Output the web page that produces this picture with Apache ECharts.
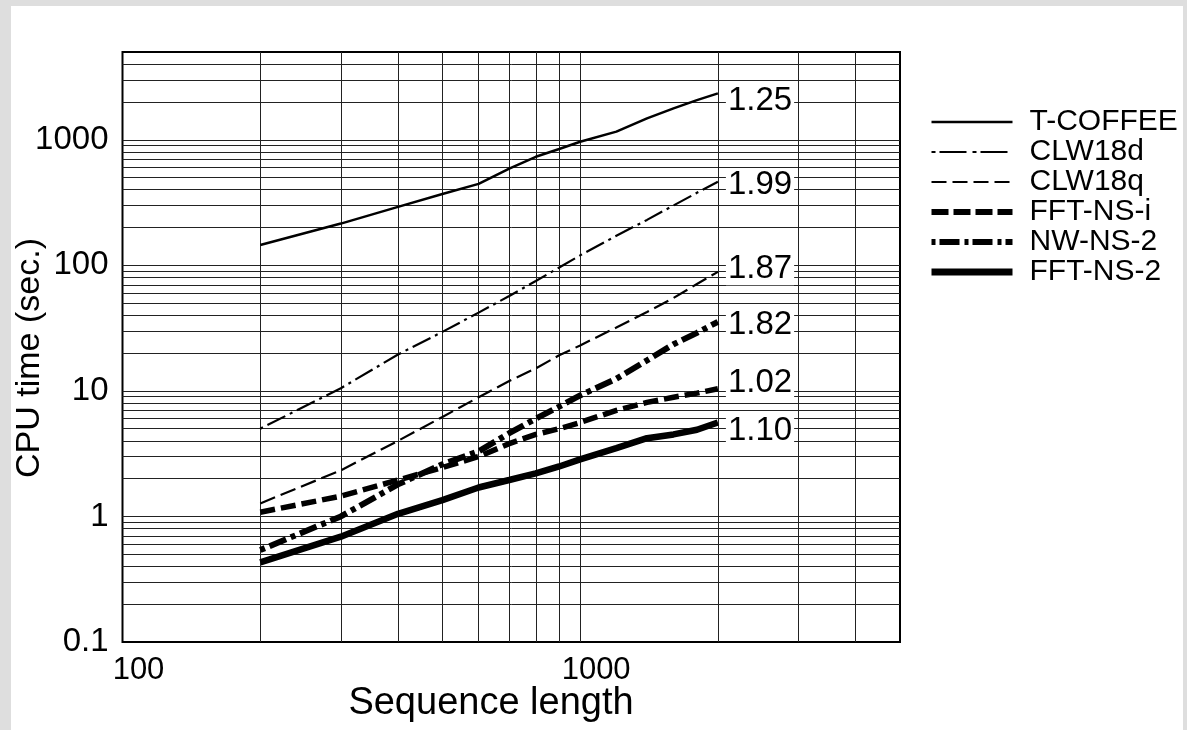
<!DOCTYPE html>
<html>
<head>
<meta charset="utf-8">
<script src="https://cdn.jsdelivr.net/npm/echarts@6/dist/echarts.min.js"></script>
<style>
html,body{margin:0;padding:0;background:#dedede;width:1187px;height:730px;overflow:hidden;}
#paper{position:absolute;left:11px;top:6px;width:1172px;height:724px;background:#fff;}
#chart{position:absolute;left:0;top:0;width:1187px;height:730px;}
</style>
</head>
<body>
<div id="paper"></div>
<div id="chart"></div>
<script>
// ---- data ----
const xValues   = [200, 300, 400, 500, 600, 700, 800, 900, 1000, 1200, 1400, 1600, 1800, 2000];
const tCoffee   = [145, 215, 292, 370, 445, 590, 732, 845, 965, 1160, 1480, 1780, 2070, 2340];
const clw18d    = [5.0, 10.5, 19.5, 29.5, 42, 57, 75, 96, 120, 172, 230, 300, 378, 463];
const clw18q    = [1.27, 2.33, 4.0, 6.2, 8.9, 12, 15.1, 19.2, 23, 32, 42.5, 55, 71, 88.7];
const fftNSi    = [1.08, 1.45, 1.95, 2.45, 3.0, 3.8, 4.5, 5.0, 5.6, 7.0, 8.1, 8.9, 9.6, 10.4];
const nwNS2     = [0.54, 1.0, 1.8, 2.6, 3.3, 4.6, 6.0, 7.5, 9.2, 12.5, 17.5, 23.5, 29, 35.5];
const fftNS2    = [0.43, 0.69, 1.05, 1.35, 1.7, 1.95, 2.2, 2.5, 2.85, 3.5, 4.2, 4.5, 4.9, 5.6];
const seriesNames = ['T-COFFEE', 'CLW18d', 'CLW18q', 'FFT-NS-i', 'NW-NS-2', 'FFT-NS-2'];
const slopeLabels = ['1.25', '1.99', '1.87', '1.02', '1.82', '1.10'];
const xTickLabels = ['100', '1000'];
const yTickLabels = ['0.1', '1', '10', '100', '1000'];
const xRange = [100, 5000];
const yRange = [0.1, 5000];
const xTitle = 'Sequence length';
const yTitle = 'CPU time (sec.)';

// ---- styles ----
const seriesValues = [tCoffee, clw18d, clw18q, fftNSi, nwNS2, fftNS2];
const styles = [
  {width: 2.5, type: 'solid'},
  {width: 2.2, type: [3, 5, 20, 5]},
  {width: 2.2, type: [16, 6]},
  {width: 5.5, type: [15, 6]},
  {width: 6,   type: [5, 5, 18, 5]},
  {width: 6.5, type: 'solid'}
];
const legendStyles = [
  {width: 2.4, type: 'solid'},
  {width: 2.2, type: [4, 4, 27, 6]},
  {width: 2.2, type: [15, 6]},
  {width: 6,   type: [17, 5]},
  {width: 6,   type: [4, 4, 20, 5]},
  {width: 7,   type: 'solid'}
];
const labelDy = [8, 3, -3, -6, 3, 8];

// grid line positions (log minor lines)
function logLines(lo, hi) {
  const out = [];
  for (let d = Math.floor(Math.log10(lo)); d <= Math.ceil(Math.log10(hi)); d++) {
    for (let m = 1; m <= 9; m++) {
      const v = +(m * Math.pow(10, d)).toPrecision(6);
      if (v > lo * 1.0001 && v < hi * 0.9999) out.push(v);
    }
  }
  return out;
}
const gridMarks = logLines(xRange[0], xRange[1]).map(v => ({xAxis: v}))
  .concat(logLines(yRange[0], yRange[1]).map(v => ({yAxis: v})));

const font = '"Liberation Sans", Arial, Helvetica, sans-serif';

const series = seriesNames.map((name, i) => ({
  name: name,
  type: 'line',
  symbol: 'none',
  data: xValues.map((x, j) => [x, seriesValues[i][j]]),
  lineStyle: {color: '#000', width: styles[i].width, type: styles[i].type, cap: 'butt'},
  itemStyle: {color: '#000'},
  z: 5,
  endLabel: {
    show: true,
    formatter: slopeLabels[i],
    fontFamily: font,
    fontSize: 33,
    color: '#000',
    backgroundColor: '#fff',
    padding: [0, 2],
    distance: 0,
    offset: [8, labelDy[i]]
  },
  markLine: i === 0 ? {
    silent: true,
    symbol: ['none', 'none'],
    label: {show: false},
    lineStyle: {color: '#222', width: 1, type: 'solid'},
    emphasis: {disabled: true},
    animation: false,
    z: 1,
    data: gridMarks
  } : undefined
}));

const chart = echarts.init(document.getElementById('chart'), null, {renderer: 'canvas'});
chart.setOption({
  animation: false,
  backgroundColor: 'transparent',
  grid: {
    left: 122.5, right: 287, top: 52, bottom: 88,
    show: true, borderColor: '#000', borderWidth: 2, backgroundColor: 'transparent'
  },
  legend: {
    orient: 'vertical',
    left: 923, top: 102,
    itemWidth: 81, itemHeight: 30, itemGap: 0,
    selectedMode: false,
    itemStyle: {opacity: 0},
    textStyle: {fontFamily: font, fontSize: 30, color: '#000', lineHeight: 30, padding: [0, 0, 0, 12]},
    data: seriesNames.map((n, i) => ({
      name: n,
      itemStyle: {opacity: 0},
      lineStyle: {color: '#000', width: legendStyles[i].width, type: legendStyles[i].type, cap: 'butt', opacity: 1}
    }))
  },
  xAxis: {
    type: 'log', logBase: 10, min: xRange[0], max: xRange[1],
    axisLine: {show: false}, axisTick: {show: false}, splitLine: {show: false},
    axisLabel: {
      fontFamily: font, fontSize: 31, color: '#000', margin: 13,
      padding: [0, 0, 0, 32], showMaxLabel: false,
      formatter: v => { const s = String(+(+v).toPrecision(4)); return xTickLabels.includes(s) ? s : ''; }
    }
  },
  yAxis: {
    type: 'log', logBase: 10, min: yRange[0], max: yRange[1],
    axisLine: {show: false}, axisTick: {show: false}, splitLine: {show: false},
    axisLabel: {
      fontFamily: font, fontSize: 33, color: '#000', margin: 14, showMaxLabel: false,
      formatter: v => { const s = String(+(+v).toPrecision(4)); return yTickLabels.includes(s) ? s : ''; }
    }
  },
  graphic: [
    {type: 'text', x: 491, y: 704, z: 10,
     style: {text: xTitle, font: '38px ' + font, fill: '#000', textAlign: 'center', textVerticalAlign: 'middle'}},
    {type: 'text', x: 30, y: 358, rotation: Math.PI / 2, z: 10,
     style: {text: yTitle, font: '34px ' + font, fill: '#000', textAlign: 'center', textVerticalAlign: 'middle'}}
  ],
  series: series
});
</script>
</body>
</html>
